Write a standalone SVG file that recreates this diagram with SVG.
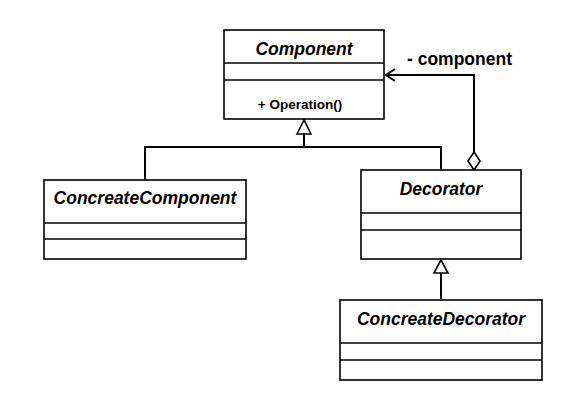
<svg xmlns="http://www.w3.org/2000/svg" width="567" height="400" viewBox="0 0 567 400">
<style>
.box{fill:#fff;stroke:#000;stroke-width:1.6}
.div{stroke:#000;stroke-width:1.6}
.t{font-family:"Liberation Sans",Arial,sans-serif;font-weight:bold;font-style:italic;font-size:17.5px;text-anchor:middle}
.op{font-family:"Liberation Sans",Arial,sans-serif;font-weight:bold;font-size:13.5px;text-anchor:middle}
.lbl{font-family:"Liberation Sans",Arial,sans-serif;font-weight:bold;font-size:17.5px}
.c{fill:none;stroke:#000;stroke-width:2}
</style>
<rect width="567" height="400" fill="#fff"/>
<g id="connectors">
<polyline class="c" points="145,180 145,147 441,147 441,170"/>
<line class="c" x1="304" y1="147" x2="304" y2="134"/>
<polygon points="304,120 297,134 311,134" fill="#fff" stroke="#000" stroke-width="1.6"/>
<line class="c" x1="441" y1="299" x2="441" y2="273"/>
<polygon points="441,260 434,273 448,273" fill="#fff" stroke="#000" stroke-width="1.6"/>
<polyline class="c" points="474,152 474,75 386,75"/>
<polyline class="c" points="395,69 386,75 395,81"/>
<polygon points="474,152 480,161 474,170 468,161" fill="#fff" stroke="#000" stroke-width="1.6"/>
<text class="lbl" x="407" y="65">- component</text>
</g>
<g id="Component">
<rect class="box" x="224" y="30" width="160" height="89"/>
<line class="div" x1="224" y1="63" x2="384" y2="63"/>
<line class="div" x1="224" y1="80" x2="384" y2="80"/>
<text class="t" x="304" y="55">Component</text>
<text class="op" x="300" y="109">+ Operation()</text>
</g>
<g id="ConcreateComponent">
<rect class="box" x="44" y="180" width="202" height="79"/>
<line class="div" x1="44" y1="223" x2="246" y2="223"/>
<line class="div" x1="44" y1="239" x2="246" y2="239"/>
<text class="t" x="145" y="204">ConcreateComponent</text>
</g>
<g id="Decorator">
<rect class="box" x="361" y="170" width="160" height="89"/>
<line class="div" x1="361" y1="213" x2="521" y2="213"/>
<line class="div" x1="361" y1="230" x2="521" y2="230"/>
<text class="t" x="441" y="195">Decorator</text>
</g>
<g id="ConcreateDecorator">
<rect class="box" x="340" y="300" width="202" height="80"/>
<line class="div" x1="340" y1="343" x2="542" y2="343"/>
<line class="div" x1="340" y1="360" x2="542" y2="360"/>
<text class="t" x="441" y="325">ConcreateDecorator</text>
</g>
</svg>
